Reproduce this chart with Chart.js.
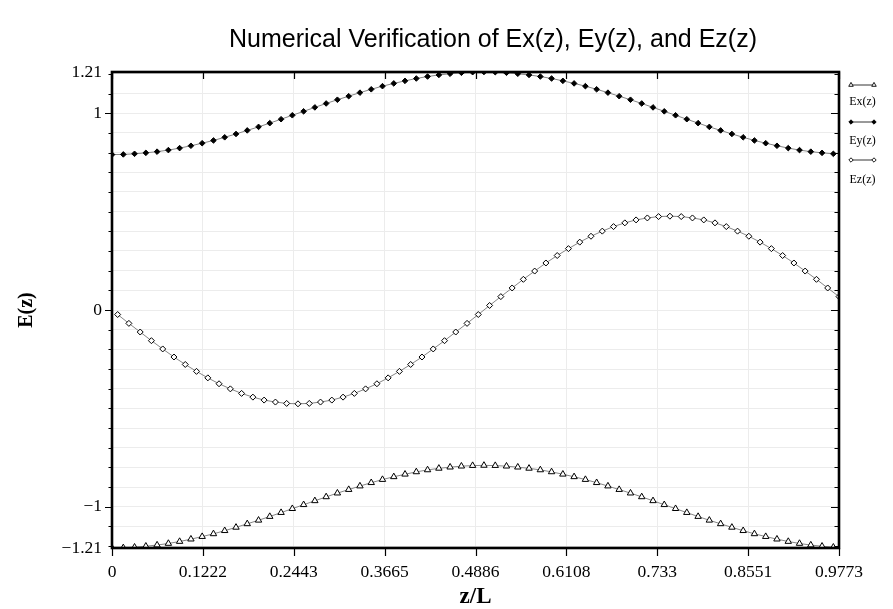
<!DOCTYPE html>
<html><head><meta charset="utf-8">
<script src="https://cdn.jsdelivr.net/npm/chart.js@4.4.1/dist/chart.umd.min.js"></script>
<style>html,body{margin:0;padding:0;background:#fff;}</style>
</head><body>
<canvas id="c" width="893" height="609"></canvas>
<script>
// ---- data ----
const zNodes = [0,0.0152,0.0303,0.0455,0.0606,0.0758,0.0909,0.1061,0.1212,0.1364,
0.1515,0.1667,0.1818,0.1970,0.2121,0.2273,0.2424,0.2576,0.2727,0.2879,
0.3030,0.3182,0.3333,0.3485,0.3636,0.3788,0.3939,0.4091,0.4242,0.4394,
0.4545,0.4697,0.4848,0.5000,0.5152,0.5303,0.5455,0.5606,0.5758,0.5909,
0.6061,0.6212,0.6364,0.6515,0.6667,0.6818,0.6970,0.7121,0.7273,0.7424,
0.7576,0.7727,0.7879,0.8030,0.8182,0.8333,0.8485,0.8636,0.8788,0.8939,
0.9091,0.9242,0.9394,0.9545,0.9697];
const zStagger = [0.0076,0.0227,0.0379,0.0530,0.0682,0.0833,0.0985,0.1136,0.1288,0.1439,
0.1591,0.1742,0.1894,0.2045,0.2197,0.2348,0.2500,0.2652,0.2803,0.2955,
0.3106,0.3258,0.3409,0.3561,0.3712,0.3864,0.4015,0.4167,0.4318,0.4470,
0.4621,0.4773,0.4924,0.5076,0.5227,0.5379,0.5530,0.5682,0.5833,0.5985,
0.6136,0.6288,0.6439,0.6591,0.6742,0.6894,0.7045,0.7197,0.7348,0.7500,
0.7652,0.7803,0.7955,0.8106,0.8258,0.8409,0.8561,0.8712,0.8864,0.9015,
0.9167,0.9318,0.9470,0.9621,0.9773];
const exValues = [-1.210,-1.209,-1.206,-1.201,-1.195,-1.187,-1.177,-1.165,-1.152,-1.138,
-1.122,-1.105,-1.087,-1.069,-1.050,-1.030,-1.010,-0.990,-0.970,-0.950,
-0.931,-0.913,-0.895,-0.878,-0.862,-0.848,-0.835,-0.823,-0.813,-0.805,
-0.799,-0.794,-0.791,-0.790,-0.791,-0.794,-0.799,-0.805,-0.813,-0.823,
-0.835,-0.848,-0.862,-0.878,-0.895,-0.913,-0.931,-0.950,-0.970,-0.990,
-1.010,-1.030,-1.050,-1.069,-1.087,-1.105,-1.122,-1.138,-1.152,-1.165,
-1.177,-1.187,-1.195,-1.201,-1.206];
const eyValues = [0.790,0.791,0.794,0.799,0.805,0.813,0.823,0.835,0.848,0.862,
0.878,0.895,0.913,0.931,0.950,0.970,0.990,1.010,1.030,1.050,
1.069,1.087,1.105,1.122,1.138,1.152,1.165,1.177,1.187,1.195,
1.201,1.206,1.209,1.210,1.209,1.206,1.201,1.195,1.187,1.177,
1.165,1.152,1.138,1.122,1.105,1.087,1.069,1.050,1.030,1.010,
0.990,0.970,0.950,0.931,0.913,0.895,0.878,0.862,0.848,0.835,
0.823,0.813,0.805,0.799,0.794];
const ezValues = [-0.023,-0.068,-0.112,-0.156,-0.198,-0.239,-0.277,-0.312,-0.345,-0.375,
-0.401,-0.424,-0.443,-0.458,-0.468,-0.475,-0.477,-0.475,-0.468,-0.458,
-0.443,-0.424,-0.401,-0.375,-0.345,-0.312,-0.277,-0.239,-0.198,-0.156,
-0.112,-0.068,-0.023,0.023,0.068,0.112,0.156,0.198,0.239,0.277,
0.312,0.345,0.375,0.401,0.424,0.443,0.458,0.468,0.475,0.477,
0.475,0.468,0.458,0.443,0.424,0.401,0.375,0.345,0.312,0.277,
0.239,0.198,0.156,0.112,0.068];
const seriesNames = ['Ex(z)','Ey(z)','Ez(z)'];
const chartTitle = 'Numerical Verification of Ex(z), Ey(z), and Ez(z)';
const xTickValues = [0,0.12216,0.24433,0.36649,0.48865,0.61081,0.73298,0.85514,0.9773];
const xTickLabels = ['0','0.1222','0.2443','0.3665','0.4886','0.6108','0.733','0.8551','0.9773'];
const yTickValues = [-1.21,-1.2,-1.1,-1,-0.9,-0.8,-0.7,-0.6,-0.5,-0.4,-0.3,-0.2,-0.1,0,0.1,0.2,0.3,0.4,0.5,0.6,0.7,0.8,0.9,1,1.1,1.2,1.21];
const yLabelValues = [-1.21,-1,0,1,1.21];
const yLabelTexts = ['\u22121.21','\u22121','0','1','1.21'];
const yMajorValues = [-1,0,1];

// ---- drawing ----
const SERIF = '"Liberation Serif","Times New Roman",Times,serif';
const SANS = '"Liberation Sans",Arial,Helvetica,sans-serif';
const LINE_COLOR = '#858585';

function drawMarker(ctx, style, x, y, r, fill) {
  ctx.beginPath();
  if (style === 'triangle') {
    ctx.moveTo(x, y - r);
    ctx.lineTo(x + r * 0.866, y + r * 0.5);
    ctx.lineTo(x - r * 0.866, y + r * 0.5);
    ctx.closePath();
  } else {
    ctx.moveTo(x, y - r); ctx.lineTo(x + r, y); ctx.lineTo(x, y + r); ctx.lineTo(x - r, y); ctx.closePath();
  }
  ctx.fillStyle = fill; ctx.fill();
  ctx.strokeStyle = '#000'; ctx.lineWidth = 0.9; ctx.stroke();
}

const framePlugin = {
  id: 'framePlugin',
  afterDatasetsDraw(chart) {
    const {ctx, chartArea: a, scales: {x, y}} = chart;
    ctx.save();
    ctx.strokeStyle = '#000';
    ctx.lineWidth = 1.2;
    ctx.beginPath();
    yTickValues.forEach(v => {
      if (Math.abs(v) > 1.205) return;
      const py = Math.round(y.getPixelForValue(v)) + 0.5;
      const major = yMajorValues.includes(v);
      ctx.moveTo(a.left, py); ctx.lineTo(a.left - (major ? 7 : 3.5), py);
      ctx.moveTo(a.right, py); ctx.lineTo(a.right - (major ? 8 : 4.5), py);
    });
    xTickValues.forEach(v => {
      const px = Math.round(x.getPixelForValue(v)) + 0.5;
      ctx.moveTo(px, a.bottom); ctx.lineTo(px, a.bottom + 8);
      ctx.moveTo(px, a.top); ctx.lineTo(px, a.top + 7);
    });
    ctx.stroke();
    ctx.lineWidth = 2.6;
    ctx.strokeRect(a.left, a.top, a.right - a.left, a.bottom - a.top);
    ctx.restore();
  },
  afterDraw(chart) {
    const ctx = chart.ctx;
    ctx.save();
    // title
    ctx.fillStyle = '#000';
    ctx.font = '25px ' + SANS;
    ctx.textAlign = 'center'; ctx.textBaseline = 'middle';
    ctx.fillText(chartTitle, 493, 40);
    // legend
    const lineYs = [85, 122, 160];
    const textYs = [102, 141, 180];
    chart.data.datasets.forEach((ds, i) => {
      const ly = lineYs[i];
      ctx.strokeStyle = '#000'; ctx.lineWidth = 0.8;
      ctx.beginPath(); ctx.moveTo(851, ly); ctx.lineTo(874, ly); ctx.stroke();
      const r = ds.pointStyle === 'triangle' ? 2.6 : 2.2;
      drawMarker(ctx, ds.pointStyle, 851, ly, r, ds.pointBackgroundColor);
      drawMarker(ctx, ds.pointStyle, 874, ly, r, ds.pointBackgroundColor);
      ctx.fillStyle = '#000';
      ctx.font = '12px ' + SERIF;
      ctx.textAlign = 'center'; ctx.textBaseline = 'middle';
      ctx.fillText(ds.label, 862.5, textYs[i]);
    });
    ctx.restore();
  }
};

function pts(xs, ys) { return xs.map((v, i) => ({x: v, y: ys[i]})); }

new Chart(document.getElementById('c'), {
  type: 'line',
  data: {
    datasets: [
      {label: seriesNames[0], data: pts(zNodes, exValues), borderColor: LINE_COLOR, borderWidth: 1,
       pointStyle: 'triangle', pointRadius: 3.7, pointBackgroundColor: '#fff', pointBorderColor: '#000', pointBorderWidth: 1},
      {label: seriesNames[1], data: pts(zNodes, eyValues), borderColor: LINE_COLOR, borderWidth: 1,
       pointStyle: 'rectRot', pointRadius: 2.8, pointBackgroundColor: '#000', pointBorderColor: '#000', pointBorderWidth: 1},
      {label: seriesNames[2], data: pts(zStagger, ezValues), borderColor: LINE_COLOR, borderWidth: 1,
       pointStyle: 'rectRot', pointRadius: 3, pointBackgroundColor: '#fff', pointBorderColor: '#000', pointBorderWidth: 1}
    ]
  },
  options: {
    responsive: false,
    devicePixelRatio: 1,
    animation: false,
    layout: {padding: {left: 0, right: 54, top: 72, bottom: 0}},
    plugins: {
      legend: {display: false},
      tooltip: {enabled: false},
      title: {display: false}
    },
    scales: {
      x: {
        type: 'linear', min: 0, max: 0.9773,
        afterBuildTicks: s => { s.ticks = xTickValues.map(v => ({value: v})); },
        afterFit: s => { s.height = 61; },
        ticks: {autoSkip: false, maxRotation: 0, padding: 13.5, color: '#000',
          font: {family: SERIF, size: 17.5},
          callback: (v, i) => xTickLabels[i]},
        grid: {color: '#ececec', lineWidth: 1, drawTicks: false},
        border: {display: false},
        title: {display: true, text: 'z/L', color: '#000',
          font: {family: SERIF, size: 23, weight: 'bold', lineHeight: 1},
          padding: {top: 0, bottom: 0}}
      },
      y: {
        type: 'linear', min: -1.21, max: 1.21,
        afterBuildTicks: s => { s.ticks = yTickValues.map(v => ({value: v})); },
        afterFit: s => { s.width = 112; },
        ticks: {autoSkip: false, padding: 10, color: '#000',
          font: {family: SERIF, size: 17.5},
          callback: v => { const i = yLabelValues.indexOf(v); return i < 0 ? '' : yLabelTexts[i]; }},
        grid: {color: c => (c.tick && Math.abs(c.tick.value) > 1.205) ? 'rgba(0,0,0,0)' : '#ececec',
          lineWidth: 1, drawTicks: false},
        border: {display: false},
        title: {display: true, text: 'E(z)', color: '#000',
          font: {family: SERIF, size: 20, weight: 'bold', lineHeight: 1.2},
          padding: {top: 15, bottom: 0}}
      }
    }
  },
  plugins: [framePlugin]
});
</script>
</body></html>
